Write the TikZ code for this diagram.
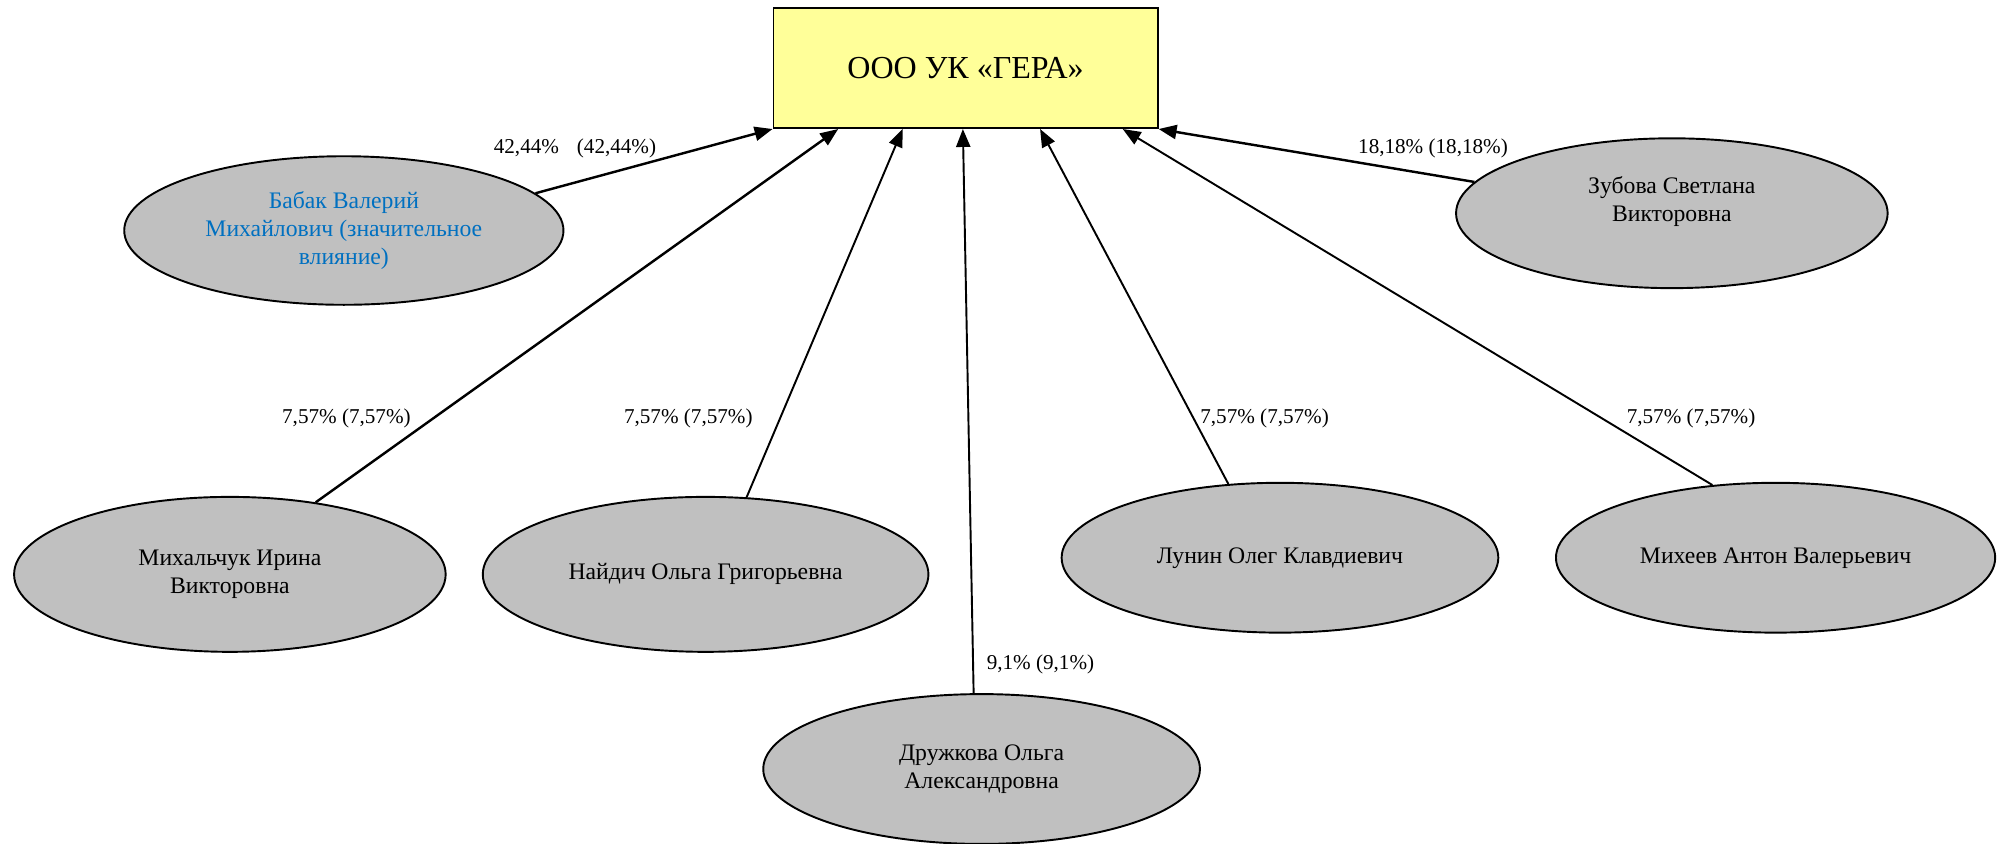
\documentclass[tikz,border=0pt]{standalone}
\usepackage{fontspec}
\setmainfont{Liberation Serif}
\usetikzlibrary{shapes.geometric,arrows.meta,calc}
\definecolor{boxyellow}{HTML}{FFFF99}
\definecolor{persongray}{HTML}{C0C0C0}
\definecolor{nameblue}{HTML}{0070C0}
\tikzstyle{company} = [rectangle, draw, fill=boxyellow, line width=1.5pt,
    minimum width=300pt, minimum height=94pt, font=\fontsize{25}{30}\selectfont]
\tikzstyle{person} = [ellipse, draw, fill=persongray, line width=1.5pt,
    minimum width=342pt, minimum height=117pt, inner sep=0pt, align=center,
    font=\fontsize{18.5}{22}\selectfont]
\tikzstyle{share} = [inner sep=0pt, font=\fontsize{16.5}{19}\selectfont]
\tikzstyle{line} = [draw, line width=1.9pt, -{Triangle[length=14pt,width=11pt]}]
\tikzstyle{thinline} = [line, line width=1.5pt]

\begin{document}
\begin{tikzpicture}[x=1pt, y=-1pt]
        \useasboundingbox (0,0) rectangle (1568,659);
            % Nodes
        \node [company] (gera) at (754,53) {ООО УК «ГЕРА»};
        \node [person, text=nameblue, minimum width=343pt, minimum height=116pt] (babak) at (268.5,180) {Бабак Валерий\\Михайлович (значительное\\влияние)};
        \node [person, minimum width=337pt] (zubova) at (1305.5,166.5) {Зубова Светлана\\Викторовна\\\phantom{В}};
        \node [person, minimum width=337pt, minimum height=121pt] (mikhalchuk) at (179.5,448.5) {Михальчук Ирина\\Викторовна};
        \node [person, minimum width=348pt, minimum height=121pt] (naidich) at (551,448.5) {Найдич Ольга Григорьевна};
        \node [person, minimum width=341pt] (druzhkova) at (766.5,600.5) {Дружкова Ольга\\Александровна};
        \node [person, minimum width=341pt] (lunin) at (999.5,435.5) {Лунин Олег Клавдиевич};
        \node [person, minimum width=343pt] (mikheev) at (1386.5,435.5) {Михеев Антон Валерьевич};
            % Shares
        \node [share] (s-babak) at (449,116) {42,44\%\hspace{14pt}(42,44\%)};
        \node [share] (s-zubova) at (1119,116) {18,18\% (18,18\%)};
        \node [share] (s-mikhalchuk) at (270.5,327) {7,57\% (7,57\%)};
        \node [share] (s-naidich) at (537.5,327) {7,57\% (7,57\%)};
        \node [share] (s-lunin) at (987.5,327) {7,57\% (7,57\%)};
        \node [share] (s-mikheev) at (1320.5,327) {7,57\% (7,57\%)};
        \node [share] (s-druzhkova) at (812.5,519) {9,1\% (9,1\%)};
            % Edges
        \path [line] (babak.11) -- (gera.south west);
        \path [line] (mikhalchuk.40) -- ($(gera.south west)!0.17!(gera.south east)$);
        \path [thinline] (naidich.62) -- ($(gera.south west)!0.337!(gera.south east)$);
        \path [thinline] (druzhkova.96) -- ($(gera.south west)!0.493!(gera.south east)$);
        \path [thinline] (lunin.125) -- ($(gera.south west)!0.693!(gera.south east)$);
        \path [thinline] (mikheev.131) -- ($(gera.south west)!0.907!(gera.south east)$);
        \path [line] (zubova.171) -- (gera.south east);
\end{tikzpicture}
\end{document}
